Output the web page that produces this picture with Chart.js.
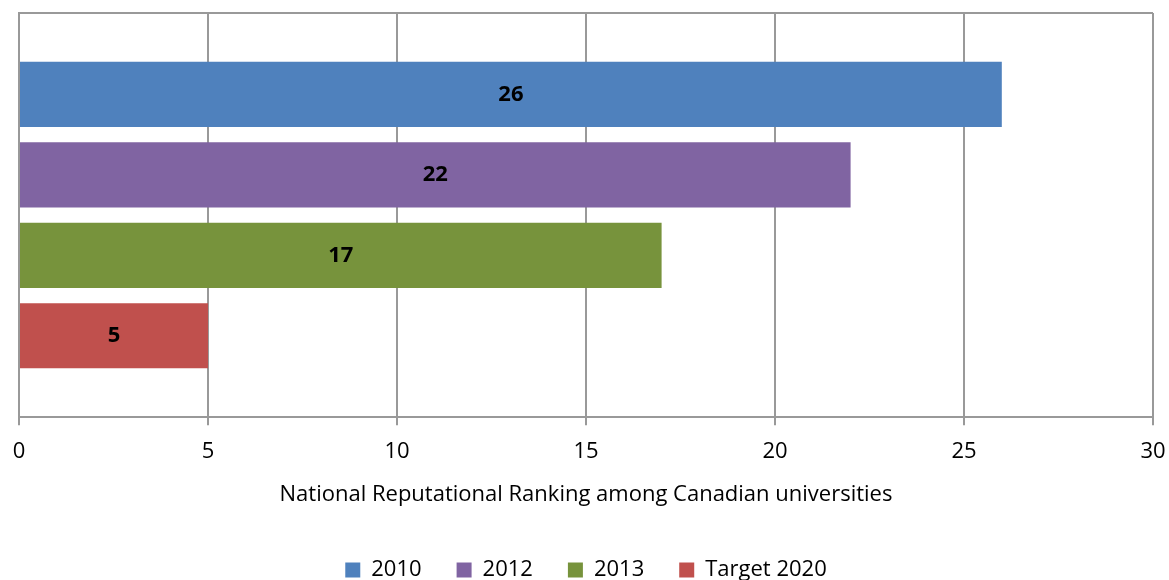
<!DOCTYPE html>
<html>
<head>
<meta charset="utf-8">
<script src="https://cdn.jsdelivr.net/npm/chart.js@4"></script>
<style>
    html, body { margin: 0; padding: 0; background: #fff; }
    #wrap { width: 1169px; height: 580px; }
</style>
</head>
<body>
<div id="wrap"><canvas id="rankChart"></canvas></div>
<script>
// Chart data
const categories = ['Ranking'];
const seriesNames = ['2010', '2012', '2013', 'Target 2020'];
const seriesValues = [[26], [22], [17], [5]];
const seriesColors = ['#4F81BD', '#8064A2', '#77933C', '#C0504D'];
const xTicks = [0, 5, 10, 15, 20, 25, 30];

const FONT = '"Open Sans", "Noto Sans", sans-serif';

// Value labels in the middle of each bar
const barLabels = {
    id: 'barLabels',
    afterDatasetsDraw(chart) {
        const ctx = chart.ctx;
        ctx.save();
        ctx.font = 'bold 22px ' + FONT;
        ctx.fillStyle = '#000';
        ctx.textAlign = 'center';
        ctx.textBaseline = 'middle';
        chart.data.datasets.forEach((ds, i) => {
            chart.getDatasetMeta(i).data.forEach((bar, j) => {
                const x = (bar.x + bar.base) / 2;
                ctx.fillText(String(ds.data[j]), x, bar.y);
            });
        });
        ctx.restore();
    }
};

function createRankChart() {
    const ctx = document.getElementById('rankChart');
    if (!ctx) return;

    new Chart(ctx, {
        type: 'bar',
        data: {
            labels: categories,
            datasets: seriesNames.map((name, i) => ({
                label: name,
                data: seriesValues[i],
                backgroundColor: seriesColors[i],
                borderWidth: 0,
                categoryPercentage: 0.796,
                barPercentage: 0.81
            }))
        },
        options: {
            indexAxis: 'y',
            responsive: true,
            maintainAspectRatio: false,
            animation: false,
            layout: {
                padding: { left: 19, right: 16, top: 13, bottom: -11 }
            },
            plugins: {
                legend: {
                    display: true,
                    position: 'bottom',
                    labels: {
                        color: '#000',
                        boxWidth: 15,
                        boxHeight: 15,
                        padding: 35,
                        font: { family: FONT, size: 22 }
                    }
                },
                tooltip: { enabled: false }
            },
            scales: {
                x: {
                    min: 0,
                    max: 30,
                    afterBuildTicks(axis) {
                        axis.ticks = xTicks.map(v => ({ value: v }));
                    },
                    // let the layout padding alone decide the plot edges
                    afterFit(axis) {
                        axis.paddingLeft = 0;
                        axis.paddingRight = 0;
                    },
                    grid: {
                        color: '#999',
                        lineWidth: 2,
                        tickLength: 8
                    },
                    border: { color: '#999', width: 2 },
                    ticks: {
                        color: '#000',
                        padding: 13,
                        font: { family: FONT, size: 22 }
                    },
                    title: {
                        display: true,
                        text: 'National Reputational Ranking among Canadian universities',
                        color: '#000',
                        padding: { top: 4, bottom: 16 },
                        font: { family: FONT, size: 22 }
                    }
                },
                y: {
                    offset: true,
                    grid: {
                        display: true,
                        offset: true,
                        color: '#999',
                        lineWidth: 2,
                        drawTicks: false
                    },
                    border: { color: '#999', width: 2 },
                    ticks: { display: false }
                }
            }
        },
        plugins: [barLabels]
    });
}

createRankChart();
</script>
</body>
</html>
